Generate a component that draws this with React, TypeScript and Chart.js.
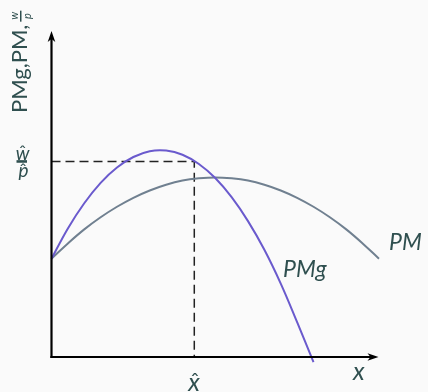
import React, { useEffect, useRef } from "react";
import { Chart, registerables } from "chart.js";

Chart.register(...registerables);

// ---- data (abstract units, axes 0..10) ----
const pmX = [0, 0.5, 1, 1.5, 2, 2.5, 3, 3.5, 4, 4.5, 5, 5.5, 6, 6.5, 7, 7.5, 8, 8.5, 9, 9.5, 10];
const pmValues = [3.08, 3.56, 4.0, 4.38, 4.71, 4.99, 5.22, 5.4, 5.53, 5.6, 5.63, 5.6, 5.53, 5.4, 5.22, 4.99, 4.71, 4.38, 4.0, 3.56, 3.08];
const pmgX = [0, 0.5, 1, 1.5, 2, 2.5, 3, 3.5, 4, 4.5, 5, 5.5, 6, 6.5, 7, 7.5, 8];
const pmgValues = [3.08, 4.03, 4.82, 5.46, 5.94, 6.27, 6.45, 6.47, 6.34, 6.05, 5.61, 5.01, 4.26, 3.36, 2.3, 1.09, -0.16];
const xHat = 4.36;
const wpHat = 6.13;
const axisMax = 10;

const labelPM = "PM";
const labelPMg = "PMg";
const labelX = "x";
const labelXHat = "x";
const labelW = "w";
const labelP = "p";
const hatGlyph = "ˆ";
const yAxisTitle = "PMg,PM,";

const TEXT = "#2f4f4f";
const FONT = "Lato, 'Open Sans', sans-serif";

// draw a glyph so that its ink box is centred on cx and its top sits at `top`
function drawInk(ctx: CanvasRenderingContext2D, s: string, cx: number, top: number) {
  ctx.textAlign = "left";
  ctx.textBaseline = "alphabetic";
  const m = ctx.measureText(s);
  const left = -m.actualBoundingBoxLeft;
  const right = m.actualBoundingBoxRight;
  const x = cx - (left + right) / 2;
  ctx.fillText(s, x, top + m.actualBoundingBoxAscent);
}

const overlay = {
  id: "econOverlay",
  afterDatasetsDraw(chart: any) {
    const ctx: CanvasRenderingContext2D = chart.ctx;
    const xs = chart.scales.x;
    const ys = chart.scales.y;
    const x0 = xs.getPixelForValue(0);
    const y0 = ys.getPixelForValue(0);
    const yTop = ys.getPixelForValue(axisMax);
    const xEnd = xs.getPixelForValue(axisMax);
    ctx.save();
    // axes
    ctx.strokeStyle = "#000";
    ctx.fillStyle = "#000";
    ctx.lineWidth = 2.2;
    ctx.lineCap = "butt";
    ctx.beginPath();
    ctx.moveTo(x0, y0 + 1.1);
    ctx.lineTo(x0, yTop + 1);
    ctx.stroke();
    ctx.beginPath();
    ctx.moveTo(x0 - 1.1, y0);
    ctx.lineTo(xEnd - 8, y0);
    ctx.stroke();
    // y arrow
    ctx.beginPath();
    ctx.moveTo(x0, yTop - 7);
    ctx.lineTo(x0 - 3.8, yTop + 4);
    ctx.lineTo(x0, yTop + 1);
    ctx.lineTo(x0 + 3.8, yTop + 4);
    ctx.closePath();
    ctx.fill();
    // x arrow
    ctx.beginPath();
    ctx.moveTo(xEnd - 0.5, y0);
    ctx.lineTo(xEnd - 11.5, y0 - 3.8);
    ctx.lineTo(xEnd - 8.5, y0);
    ctx.lineTo(xEnd - 11.5, y0 + 3.8);
    ctx.closePath();
    ctx.fill();

    ctx.fillStyle = TEXT;
    ctx.textBaseline = "alphabetic";
    // curve labels
    ctx.textAlign = "left";
    ctx.font = `italic 23px ${FONT}`;
    ctx.fillText(labelPM, 389, 250);
    ctx.fillText(labelPMg, 283, 277);
    ctx.font = `italic 25px ${FONT}`;
    ctx.fillText(labelX, 353, 380);

    // x hat tick label
    const cx = xs.getPixelForValue(xHat);
    ctx.font = `italic 25px ${FONT}`;
    drawInk(ctx, labelXHat, cx - 0.5, 378);
    ctx.font = `21px ${FONT}`;
    drawInk(ctx, hatGlyph, cx + 0.5, 372.5);

    // w/p hat fraction label
    const fy = ys.getPixelForValue(wpHat);
    ctx.fillRect(16.5, fy - 1.3, 10.5, 2.6);
    ctx.font = `italic 19px ${FONT}`;
    drawInk(ctx, labelW, 22.8, 150);
    drawInk(ctx, labelP, 23.4, 167);
    ctx.font = `18px ${FONT}`;
    drawInk(ctx, hatGlyph, 22.5, 144.5);
    drawInk(ctx, hatGlyph, 23, 162.6);

    // rotated y-axis title
    ctx.save();
    ctx.translate(27, 113);
    ctx.rotate(-Math.PI / 2);
    ctx.textAlign = "left";
    ctx.font = `22px ${FONT}`;
    ctx.fillText(yAxisTitle, 0, 0);
    const tw = ctx.measureText(yAxisTitle).width;
    const fx = tw + 3;
    const barLen = 11;
    ctx.fillRect(fx, -7, barLen, 1.5);
    ctx.textAlign = "center";
    ctx.font = `italic 11px ${FONT}`;
    ctx.fillText(labelW, fx + barLen / 2 + 0.5, -9);
    ctx.fillText(labelP, fx + barLen / 2, 4);
    ctx.restore();

    ctx.restore();
  },
};

export default function App() {
  const ref = useRef<HTMLCanvasElement | null>(null);
  useEffect(() => {
    if (!ref.current) return;
    const chart = new Chart(ref.current, {
      type: "line",
      data: {
        datasets: [
          {
            label: "dashed",
            data: [
              { x: 0, y: wpHat },
              { x: xHat, y: wpHat },
              { x: xHat, y: 0 },
            ],
            borderColor: "#222",
            borderWidth: 1.5,
            borderDash: [9, 5],
            pointRadius: 0,
            tension: 0,
            order: 3,
            clip: false as any,
          },
          {
            label: "PM",
            data: pmX.map((x, i) => ({ x, y: pmValues[i] })),
            borderColor: "slategray",
            borderWidth: 2,
            pointRadius: 0,
            tension: 0.4,
            order: 2,
            clip: false as any,
          },
          {
            label: "PMg",
            data: pmgX.map((x, i) => ({ x, y: pmgValues[i] })),
            borderColor: "slateblue",
            borderWidth: 2,
            pointRadius: 0,
            tension: 0.4,
            order: 1,
            clip: false as any,
          },
        ],
      },
      options: {
        animation: false,
        responsive: false,
        events: [],
        layout: { padding: { left: 51.5, right: 49, top: 38, bottom: 35 } },
        plugins: { legend: { display: false }, tooltip: { enabled: false } },
        scales: {
          x: { type: "linear", min: 0, max: axisMax, display: false },
          y: { type: "linear", min: 0, max: axisMax, display: false },
        },
      },
      plugins: [overlay],
    });
    return () => chart.destroy();
  }, []);
  return (
    <div style={{ position: "fixed", left: 0, top: 0, width: 428, height: 392, background: "#fafafa" }}>
      <canvas ref={ref} width={428} height={392} style={{ display: "block" }} />
    </div>
  );
}
